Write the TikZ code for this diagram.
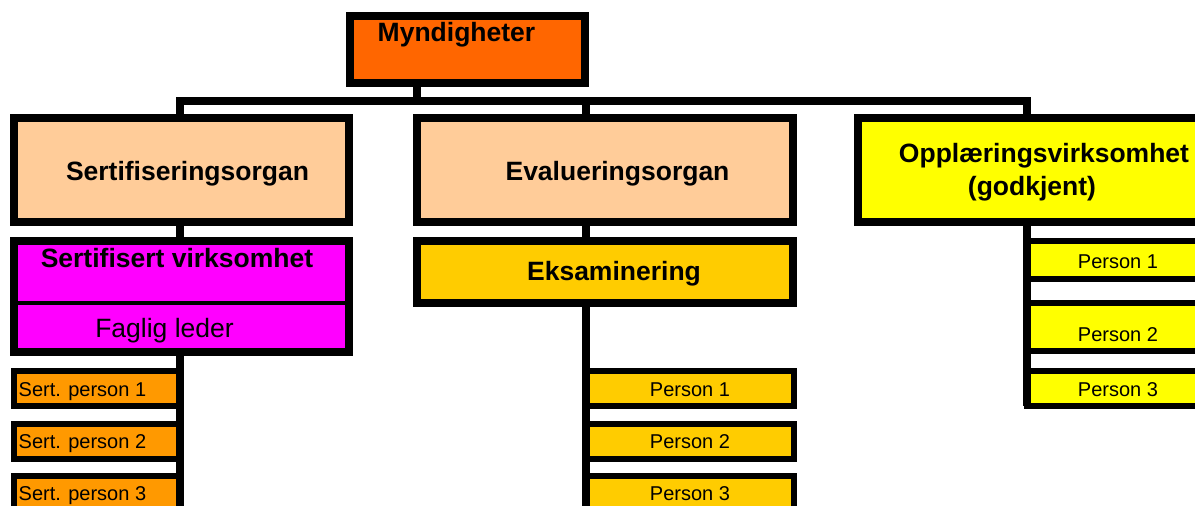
\documentclass[tikz,border=0pt]{standalone}
\usepackage{fontspec}
\setmainfont{Liberation Sans}
\definecolor{cmyn}{HTML}{FF6600}
\definecolor{corg}{HTML}{FFCC99}
\definecolor{cyel}{HTML}{FFFF00}
\definecolor{cmag}{HTML}{FF00FF}
\definecolor{ceks}{HTML}{FFCC00}
\definecolor{csert}{HTML}{FF9900}
\begin{document}
\begin{tikzpicture}[x=1pt,y=-1pt,
  box/.style={draw=black,line width=8pt,inner sep=0pt,outer sep=0pt,line join=miter,rectangle},
  pbox/.style={box,line width=6pt},
  conn/.style={draw=black,line width=8pt,line join=miter},
  bigb/.style={font=\fontsize{26.5}{30}\selectfont\bfseries,anchor=base,inner sep=0pt},
  bigr/.style={font=\fontsize{26.5}{30}\selectfont,anchor=base,inner sep=0pt},
  small/.style={font=\fontsize{20}{24}\selectfont,anchor=base,inner sep=0pt}]
\useasboundingbox (0,0) rectangle (1195,506);
\clip (0,0) rectangle (1195,506);
% junction coordinates
\coordinate (jm) at (417,101);
\coordinate (jl) at (180,101);
\coordinate (jc) at (586,101);
\coordinate (jr) at (1027,101);
% boxes
\path
  node[box,fill=cmyn,minimum width=235pt,minimum height=67pt] (myn) at (467.5,49.5) {}
  node[box,fill=corg,minimum width=335pt,minimum height=104pt] (sorg) at (181.5,170) {}
  node[box,fill=corg,minimum width=376pt,minimum height=104pt] (eorg) at (605,170) {}
  node[box,fill=cyel,minimum width=352pt,minimum height=104pt] (opp) at (1034,170) {}
  node[box,fill=cmag,minimum width=335pt,minimum height=111pt] (svirk) at (181.5,296.5) {}
  node[box,fill=ceks,minimum width=376pt,minimum height=62pt] (eks) at (605,272) {}
  node[pbox,fill=csert,minimum width=166pt,minimum height=35pt] (sp1) at (97,388.5) {}
  node[pbox,fill=csert,minimum width=166pt,minimum height=35pt] (sp2) at (97,441.5) {}
  node[pbox,fill=csert,minimum width=166pt,minimum height=35pt] (sp3) at (97,493.5) {}
  node[pbox,fill=ceks,minimum width=208pt,minimum height=35pt] (ep1) at (690,388.5) {}
  node[pbox,fill=ceks,minimum width=208pt,minimum height=35pt] (ep2) at (690,441.5) {}
  node[pbox,fill=ceks,minimum width=208pt,minimum height=35pt] (ep3) at (690,493.5) {}
  node[pbox,fill=cyel,minimum width=183pt,minimum height=38pt] (op1) at (1118.5,260) {}
  node[pbox,fill=cyel,minimum width=183pt,minimum height=48pt] (op2) at (1118.5,327) {}
  node[pbox,fill=cyel,minimum width=183pt,minimum height=35pt] (op3) at (1118.5,388.5) {};
% divider inside Sertifisert virksomhet
\draw[line width=4pt] (svirk.west |- 0,303) -- (svirk.east |- 0,303);
% connectors
\draw[conn] (myn.south -| jm) -- (jm);
\draw[conn] (jl |- sorg.north) -- (jl) -- (jr) -- (jr |- opp.north);
\draw[conn] (jc) -- (jc |- eorg.north);
\draw[conn] (sorg.south -| jl) -- (svirk.north -| jl);
\draw[conn] (eorg.south -| jc) -- (eks.north -| jc);
\draw[conn] (svirk.south -| jl) -- (jl |- sp3.south);
\draw[conn] (eks.south -| jc) -- (jc |- ep3.south);
\draw[conn] (opp.south -| jr) -- (jr |- op3.south);
% texts
\node[bigb] (tmyn) at (456.5,41.7) {Myndigheter};
\node[bigb] (tsorg) at (187.5,180) {Sertifiseringsorgan};
\node[bigb] (teorg) at (617.5,180) {Evalueringsorgan};
\node[bigb] (topp1) at (1044,162) {Opplæringsvirksomhet};
\node[bigb] (topp2) at (1032,195) {(godkjent)};
\node[bigb] (tsvirk) at (177,267) {Sertifisert virksomhet};
\node[bigr] (tfag) at (164.5,337) {Faglig leder};
\node[bigb] (teks) at (614,280) {Eksaminering};
\node[small,anchor=base west] (tsp1) at (18.5,396) {Sert. person 1};
\node[small,anchor=base west] (tsp2) at (18.5,448) {Sert. person 2};
\node[small,anchor=base west] (tsp3) at (18.5,500) {Sert. person 3};
\node[small] (tep1) at (690,396) {Person 1};
\node[small] (tep2) at (690,448) {Person 2};
\node[small] (tep3) at (690,500) {Person 3};
\node[small] (top1) at (1118,268) {Person 1};
\node[small] (top2) at (1118,341) {Person 2};
\node[small] (top3) at (1118,396) {Person 3};
\end{tikzpicture}
\end{document}
